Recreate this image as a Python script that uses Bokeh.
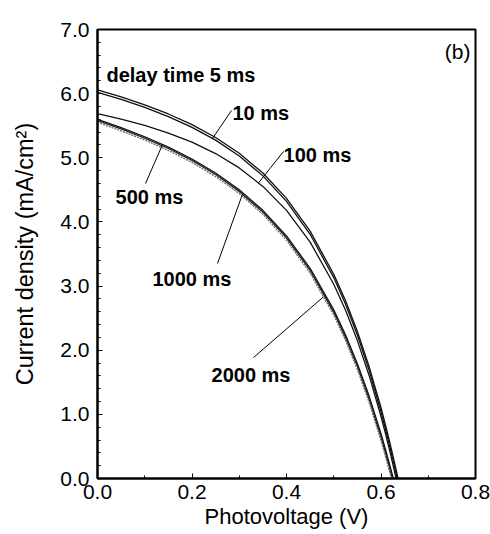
import numpy as np
from bokeh.plotting import figure
from bokeh.models import Range1d, FixedTicker, NumeralTickFormatter, ColumnDataSource
from bokeh.embed import file_html
from bokeh.resources import INLINE
from bokeh.core.properties import value

# ---- data (photovoltage V, current density mA/cm2) ----
v_grid = [0.0, 0.05, 0.1, 0.15, 0.2, 0.25, 0.3, 0.35, 0.4, 0.45, 0.5, 0.525, 0.55, 0.575, 0.6, 0.61, 0.62, 0.63]

v_5ms = v_grid + [0.636]
j_5ms = [6.060, 5.949, 5.825, 5.683, 5.517, 5.317, 5.071, 4.762, 4.367, 3.856, 3.184, 2.770, 2.293, 1.741, 1.103, 0.820, 0.520, 0.201, 0.0]

v_10ms = v_grid + [0.634]
j_10ms = [6.020, 5.909, 5.785, 5.642, 5.475, 5.275, 5.028, 4.718, 4.321, 3.807, 3.132, 2.716, 2.236, 1.682, 1.040, 0.756, 0.454, 0.134, 0.0]

v_100ms = v_grid + [0.632]
j_100ms = [5.690, 5.604, 5.504, 5.386, 5.243, 5.066, 4.842, 4.554, 4.180, 3.686, 3.029, 2.622, 2.150, 1.603, 0.967, 0.685, 0.385, 0.066, 0.0]

v_500ms = v_grid[:-1] + [0.626]
j_500ms = [5.600, 5.471, 5.328, 5.166, 4.981, 4.763, 4.501, 4.181, 3.781, 3.276, 2.629, 2.237, 1.790, 1.281, 0.697, 0.441, 0.170, 0.0]

v_1000ms = v_grid[:-1] + [0.624]
j_1000ms = [5.580, 5.450, 5.307, 5.145, 4.959, 4.740, 4.476, 4.154, 3.752, 3.243, 2.591, 2.196, 1.746, 1.233, 0.644, 0.386, 0.113, 0.0]

v_2000ms = v_grid[:-2] + [0.622]
j_2000ms = [5.550, 5.420, 5.276, 5.114, 4.927, 4.707, 4.443, 4.119, 3.715, 3.203, 2.548, 2.152, 1.699, 1.183, 0.591, 0.331, 0.0]

x_ticks = [0.0, 0.2, 0.4, 0.6, 0.8]
y_ticks = [0, 1, 2, 3, 4, 5, 6, 7]

# annotations: label text, label anchor (V, J), leader start (V, J), leader end voltage on curve
labels = ["delay time 5 ms", "10 ms", "100 ms", "500 ms", "1000 ms", "2000 ms"]
label_v = [0.019, 0.2857, 0.3937, 0.0381, 0.1164, 0.2413]
label_j = [6.283, 5.695, 5.036, 4.381, 3.118, 1.606]
lead_start_v = [None, 0.2836, 0.3937, 0.1016, 0.2540, 0.3302]
lead_start_j = [None, 5.737, 5.098, 4.599, 3.352, 1.886]
lead_end_v = [None, 0.2434, 0.3407, 0.1376, 0.3069, 0.4783]

series = [
    (v_5ms, j_5ms, "#111111", "solid"),
    (v_10ms, j_10ms, "#111111", "solid"),
    (v_100ms, j_100ms, "#111111", "solid"),
    (v_500ms, j_500ms, "#111111", "solid"),
    (v_1000ms, j_1000ms, "#222222", "solid"),
    (v_2000ms, j_2000ms, "#666666", "2 1"),
]

FONT = "Liberation Sans"

p = figure(
    frame_width=378, frame_height=449,
    min_border_left=97, min_border_right=15, min_border_top=29, min_border_bottom=0,
    x_range=Range1d(0, 0.8), y_range=Range1d(0, 7),
    output_backend="svg", toolbar_location=None,
    background_fill_color="white", border_fill_color="white",
)
p.outline_line_color = "black"
p.outline_line_width = 2
p.xgrid.visible = False
p.ygrid.visible = False

for vs, js, col, dash in series:
    p.line(vs, js, line_color=col, line_width=1.3, line_dash=dash)

# leader lines: end point lies on the curve it names
for i in range(1, len(labels)):
    vs, js = series[i][0], series[i][1]
    je = float(np.interp(lead_end_v[i], vs, js))
    p.segment(x0=[lead_start_v[i]], y0=[lead_start_j[i]], x1=[lead_end_v[i]], y1=[je],
              line_color="black", line_width=1)

src = ColumnDataSource(dict(x=label_v, y=label_j, t=labels))
p.text(x="x", y="y", text="t", source=src, text_font=value(FONT), text_font_size="20px",
       text_font_style="bold", text_baseline="middle", text_align="left", text_color="black")

p.text(x=[0.7894], y=[6.657], text=["(b)"], text_font=value(FONT), text_font_size="21px",
       text_baseline="middle", text_align="right", text_color="black")

for ax in (p.xaxis[0], p.yaxis[0]):
    ax.axis_line_width = 2
    ax.axis_line_color = "black"
    ax.major_tick_in = 5
    ax.major_tick_out = 0
    ax.minor_tick_in = 3
    ax.minor_tick_out = 0
    ax.major_tick_line_color = "black"
    ax.minor_tick_line_color = "black"
    ax.major_label_text_font = FONT
    ax.major_label_text_font_size = "21px"
    ax.major_label_text_color = "black"
    ax.axis_label_text_font = FONT
    ax.axis_label_text_font_style = "normal"
    ax.axis_label_text_color = "black"
    ax.formatter = NumeralTickFormatter(format="0.0")

p.xaxis.axis_label_text_font_size = "22px"
p.yaxis.axis_label_text_font_size = "23.5px"
p.xaxis.ticker = FixedTicker(ticks=x_ticks, minor_ticks=[0.1, 0.3, 0.5, 0.7])
p.yaxis.ticker = FixedTicker(ticks=y_ticks, minor_ticks=[round(k * 0.2, 1) for k in range(36) if k % 5])
p.xaxis.axis_label = "Photovoltage (V)"
p.yaxis.axis_label = "Current density (mA/cm²)"
p.xaxis.major_label_standoff = 6
p.xaxis.axis_label_standoff = 2
p.yaxis.major_label_standoff = 8
p.yaxis.axis_label_standoff = 19

open("out.html", "w").write(file_html(p, INLINE))
